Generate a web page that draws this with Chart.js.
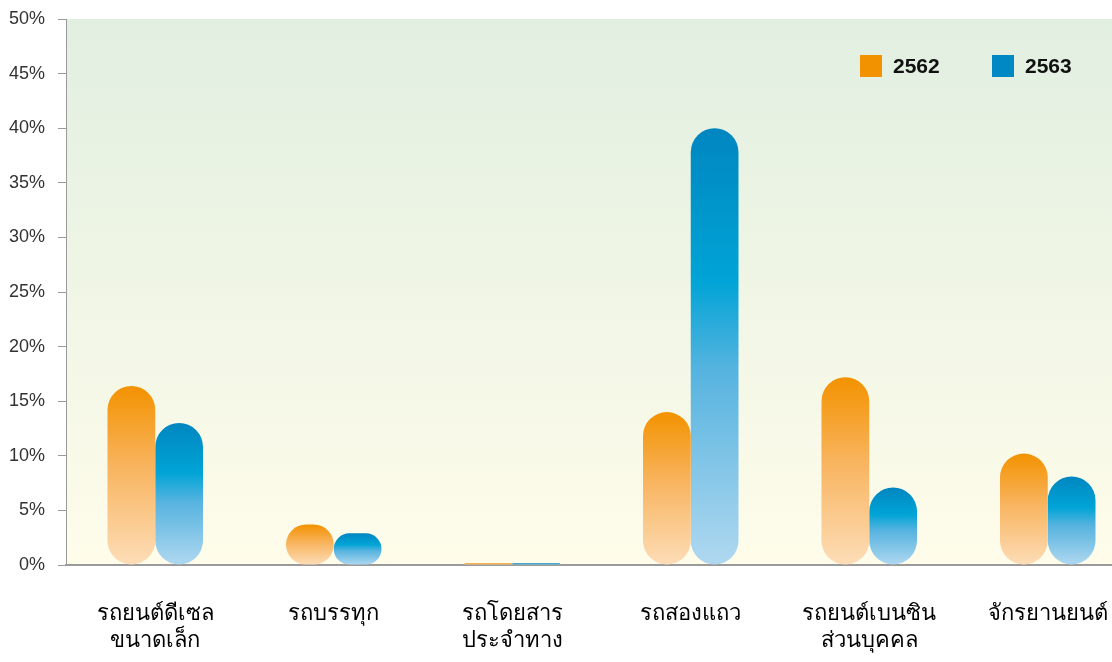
<!DOCTYPE html>
<html>
<head>
<meta charset="utf-8">
<script src="https://cdn.jsdelivr.net/npm/chart.js@4.4.1/dist/chart.umd.min.js"></script>
<style>
  html, body { margin: 0; padding: 0; background: #fff; overflow: hidden; }
  #wrap { width: 1140px; height: 662px; }
</style>
</head>
<body>
<div id="wrap"><canvas id="grafico" width="1140" height="662"></canvas></div>
<script>
const categorias = [
  ['รถยนต์ดีเซล', 'ขนาดเล็ก'],
  'รถบรรทุก',
  ['รถโดยสาร', 'ประจำทาง'],
  'รถสองแถว',
  ['รถยนต์เบนซิน', 'ส่วนบุคคล'],
  'จักรยานยนต์'
];
const valores2562 = [16.4, 3.7, 0.15, 14.0, 17.2, 10.2];
const valores2563 = [13.0, 2.9, 0.15, 40.0, 7.1, 8.1];
const etiquetasY = ['0%', '5%', '10%', '15%', '20%', '25%', '30%', '35%', '40%', '45%', '50%'];

const fuente = "'Noto Sans', 'DejaVu Sans', sans-serif";
const fuenteNum = "'Liberation Sans', 'DejaVu Sans', sans-serif";

// degradado vertical de cada barra, desde su tope hasta el cero
function degradado(paradas) {
  return (ctx) => {
    const chart = ctx.chart;
    const { chartArea } = chart;
    if (!chartArea || ctx.type !== 'data') return paradas[0][1];
    const y = chart.scales.y;
    const top = y.getPixelForValue(ctx.raw);
    const base = y.getPixelForValue(0);
    if (base - top < 1) return paradas[paradas.length - 1][1];
    const g = chart.ctx.createLinearGradient(0, top, 0, base);
    paradas.forEach(([pos, color]) => g.addColorStop(pos, color));
    return g;
  };
}

const naranja = [[0, '#F39200'], [0.45, '#F8B45E'], [1, '#FDDDB8']];
const azul = [[0, '#0086C0'], [0.35, '#00A4D6'], [0.55, '#55B3DF'], [1, '#B0D8F0']];

// fondo del área del gráfico
const fondo = {
  id: 'fondo',
  beforeDraw(chart) {
    const { ctx, chartArea: a } = chart;
    const g = ctx.createLinearGradient(0, a.top, 0, a.bottom);
    g.addColorStop(0, '#E1EFE1');
    g.addColorStop(1, '#FFFCEA');
    ctx.save();
    ctx.fillStyle = g;
    ctx.fillRect(a.left, a.top, a.right - a.left, a.bottom - a.top);
    ctx.restore();
  }
};

// leyenda dentro del área, arriba a la derecha
const leyenda = {
  id: 'leyenda',
  afterDraw(chart) {
    const { ctx } = chart;
    const xs = [860, 992];
    ctx.save();
    ctx.font = "bold 21px " + fuenteNum;
    ctx.textBaseline = 'middle';
    chart.data.datasets.forEach((ds, i) => {
      ctx.fillStyle = ds.colorLeyenda;
      ctx.fillRect(xs[i], 55, 22, 22);
      ctx.fillStyle = '#111';
      ctx.fillText(ds.label, xs[i] + 33, 67);
    });
    ctx.restore();
  }
};

const ctx = document.getElementById('grafico').getContext('2d');
new Chart(ctx, {
  type: 'bar',
  data: {
    labels: categorias,
    datasets: [
      {
        label: '2562',
        data: valores2562,
        colorLeyenda: '#F39200',
        backgroundColor: degradado(naranja),
        borderRadius: 24,
        borderSkipped: false,
        barPercentage: 1,
        categoryPercentage: 0.535
      },
      {
        label: '2563',
        data: valores2563,
        colorLeyenda: '#0088C4',
        backgroundColor: degradado(azul),
        borderRadius: 24,
        borderSkipped: false,
        barPercentage: 1,
        categoryPercentage: 0.535
      }
    ]
  },
  options: {
    responsive: false,
    animation: false,
    layout: { padding: { top: 19, right: 3, left: 0, bottom: 0 } },
    plugins: {
      legend: { display: false },
      tooltip: { enabled: false }
    },
    scales: {
      x: {
        grid: { display: false },
        border: { color: '#9a9a9a', width: 2 },
        ticks: {
          color: '#000',
          font: { family: fuente, size: 22 },
          padding: 28,
          maxRotation: 0,
          autoSkip: false
        },
        afterFit(scale) { scale.height = 97; }
      },
      y: {
        min: 0,
        max: 50,
        border: { color: '#9a9a9a', width: 1 },
        grid: { drawOnChartArea: false, color: '#9a9a9a', tickLength: 8 },
        ticks: {
          stepSize: 5,
          color: '#333',
          font: { family: fuenteNum, size: 18 },
          padding: 13,
          callback: (v) => etiquetasY[v / 5]
        },
        afterFit(scale) {
          scale.width = 66;
          scale.paddingTop = 0;
          scale.paddingBottom = 0;
        }
      }
    }
  },
  plugins: [fondo, leyenda]
});
</script>
</body>
</html>
